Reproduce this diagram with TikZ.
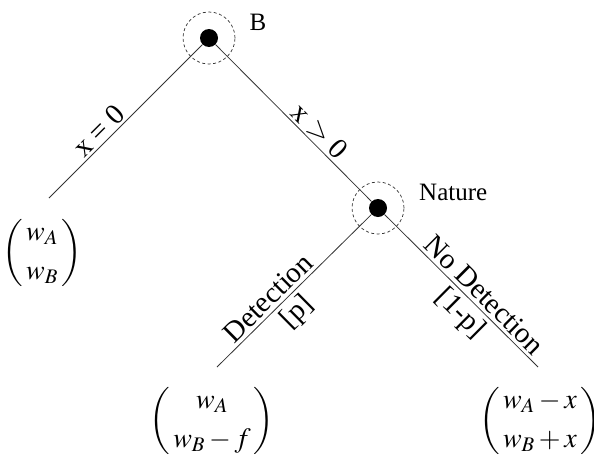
\documentclass[tikz,border=0pt]{standalone}
\usepackage{mathptmx}
\usepackage{fontspec}
\setmainfont{Liberation Serif}
\begin{document}
\begin{tikzpicture}[x=1pt,y=-1pt,
  dot/.style={circle,fill=black,inner sep=0pt,minimum size=18pt},
  halo/.style={circle,draw=black!80,dash pattern=on 3pt off 2.5pt,inner sep=0pt,minimum size=52pt,line width=0.7pt},
  branch/.style={draw=black!80,line width=0.8pt},
  lbl/.style={font=\fontsize{25}{30}\selectfont,inner sep=2pt},
  slbl/.style={font=\fontsize{29}{34}\selectfont,inner sep=2pt},
  pay/.style={font=\fontsize{28}{33}\selectfont,inner sep=0pt}]
\useasboundingbox (0,0) rectangle (594,458);
% decision nodes
\node[halo] (hB) at (209,38) {};
\node[dot] (B) at (209,38) {};
\node[lbl,anchor=center] (lB) at (258,22) {B};
\node[halo] (hN) at (378,208) {};
\node[dot] (N) at (378,208) {};
\node[lbl,anchor=west] (lN) at (417,192) {Nature};
% branch ends
\coordinate (e1) at (49,198);
\coordinate (e2) at (217,367);
\coordinate (e3) at (538,367);
% branches
\draw[branch] (B) -- node[slbl,sloped,above,pos=0.62] (l1) {x = 0} (e1);
\draw[branch] (B) -- node[slbl,sloped,above,pos=0.61] (l2) {x $>$ 0} (N);
\draw[branch] (N) -- node[slbl,sloped,above,pos=0.61,inner sep=3.5pt] (l3) {Detection}
                     node[slbl,sloped,below,pos=0.56,inner sep=4pt] (l4) {[p]} (e2);
\draw[branch] (N) -- node[slbl,sloped,above,pos=0.59,inner sep=3.5pt] (l5) {No Detection}
                     node[slbl,sloped,below,pos=0.57,inner sep=4pt] (l6) {[1-p]} (e3);
% payoffs
\node[pay] (p1) at (42,253) {$\left(\begin{array}{@{\,}c@{\,}} w_A\\[6pt] w_B\end{array}\right)$};
\node[pay] (p2) at (212,421) {$\left(\begin{array}{@{\,}c@{\,}} w_A\\[6pt] w_B-f\end{array}\right)$};
\node[pay] (p3) at (540,421) {$\left(\begin{array}{@{\,}c@{\,}} w_A-x\\[6pt] w_B+x\end{array}\right)$};
\end{tikzpicture}
\end{document}
